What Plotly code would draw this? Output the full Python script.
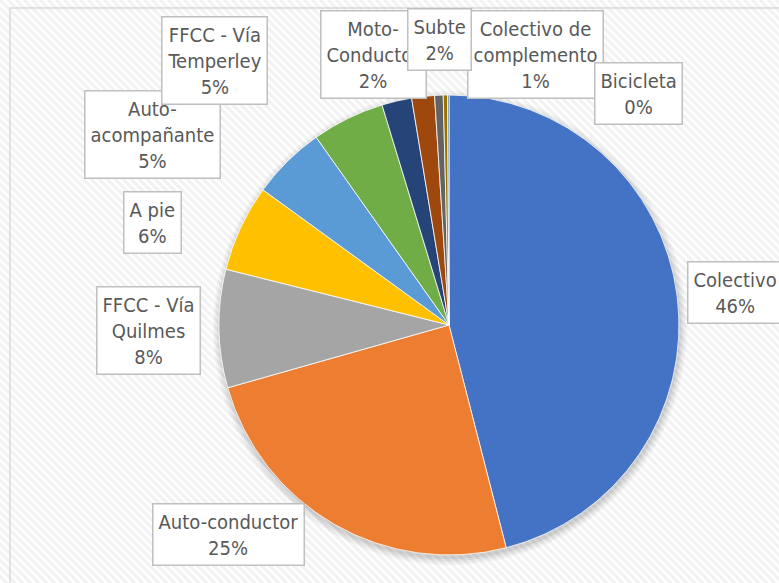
import plotly.graph_objects as go

# data
categories = ["Colectivo", "Auto-conductor", "FFCC - Vía Quilmes", "A pie",
              "Auto-acompañante", "FFCC - Vía Temperley", "Moto-Conductor",
              "Subte", "Colectivo de complemento", "Bicicleta", "Otros"]
shares = [46.0, 24.6, 8.3, 6.1, 5.2, 5.1, 2.1, 1.6, 0.6, 0.3, 0.1]
label_lines = ["Colectivo", "Auto-conductor", "FFCC - Vía<br>Quilmes", "A pie",
               "Auto-<br>acompañante", "FFCC - Vía<br>Temperley", "Moto-<br>Conductor",
               "Subte", "Colectivo de<br>complemento", "Bicicleta", None]

colors = ["#4472C4", "#ED7D31", "#A5A5A5", "#FFC000", "#5B9BD5", "#70AD47",
          "#264478", "#9E480E", "#636363", "#997300", "#255E91"]

W, H = 779, 583

# label box centres in pixels (Excel places them by hand)
label_pos = {
    "Colectivo": (735, 292),
    "Auto-conductor": (228, 534),
    "FFCC - Vía Quilmes": (148, 330),
    "A pie": (152, 222),
    "Auto-acompañante": (152, 134),
    "FFCC - Vía Temperley": (215, 60),
    "Moto-Conductor": (373, 54),
    "Subte": (439, 40),
    "Colectivo de complemento": (535, 54),
    "Bicicleta": (638, 93),
}
# drawing order so overlaps stack like the original
label_order = ["Colectivo", "Auto-conductor", "FFCC - Vía Quilmes", "A pie",
               "Auto-acompañante", "FFCC - Vía Temperley", "Moto-Conductor",
               "Colectivo de complemento", "Subte", "Bicicleta"]

total = sum(shares)

# pie placement in pixels: centre and radius
cx, cy, r = 449, 325, 230


def pie_domain(ox, oy, rr):
    return dict(x=[(ox - rr) / W, (ox + rr) / W],
                y=[1 - (oy + rr) / H, 1 - (oy - rr) / H])


fig = go.Figure()

# soft drop shadow behind the pie
for grow, alpha in [(7, 0.03), (5, 0.04), (3, 0.05), (1, 0.06)]:
    fig.add_trace(go.Pie(
        values=[total],
        sort=False,
        marker=dict(colors=["rgba(0,0,0,%.2f)" % alpha], line=dict(width=0)),
        textinfo="none",
        hoverinfo="skip",
        showlegend=False,
        domain=pie_domain(cx + 1, cy + 3, r + grow),
    ))

fig.add_trace(go.Pie(
    labels=categories,
    values=shares,
    sort=False,
    direction="clockwise",
    rotation=0,
    marker=dict(colors=colors, line=dict(color="white", width=0.8)),
    textinfo="none",
    hoverinfo="label+percent",
    showlegend=False,
    domain=pie_domain(cx, cy, r),
))

annotations = []
for name in label_order:
    i = categories.index(name)
    px, py = label_pos[name]
    pct = round(shares[i] / total * 100)
    annotations.append(dict(
        xref="paper", yref="paper",
        x=px / W, y=1 - py / H,
        xanchor="center", yanchor="middle",
        text="%s<br>%d%%" % (label_lines[i], pct),
        showarrow=False,
        align="center",
        font=dict(family="DejaVu Sans Condensed, Liberation Sans Narrow, Arial Narrow, sans-serif",
                  size=20, color="#595959"),
        bgcolor="white",
        bordercolor="#BFBFBF",
        borderwidth=1.5,
        borderpad=5,
    ))

# faint diagonal hatching of the chart area, plus its border
path = ""
for t in range(-600, W + 20, 8):
    x0, y0 = t, 0
    x1, y1 = t + 620, 620
    path += "M %.4f %.4f L %.4f %.4f " % (x0 / W, 1 - y0 / H, x1 / W, 1 - y1 / H)

shapes = [
    dict(type="path", xref="paper", yref="paper", path=path,
         line=dict(color="#F2F2F2", width=3), layer="below"),
    dict(type="rect", xref="paper", yref="paper",
         x0=10 / W, x1=1.05, y0=-0.05, y1=1 - 8 / H,
         line=dict(color="#D9D9D9", width=1.5), layer="below"),
]

fig.update_layout(
    width=W, height=H,
    margin=dict(l=0, r=0, t=0, b=0),
    paper_bgcolor="white",
    plot_bgcolor="white",
    annotations=annotations,
    shapes=shapes,
)

fig.write_html("out.html", config={"displayModeBar": False},
               post_script="document.body.style.margin='0';")
